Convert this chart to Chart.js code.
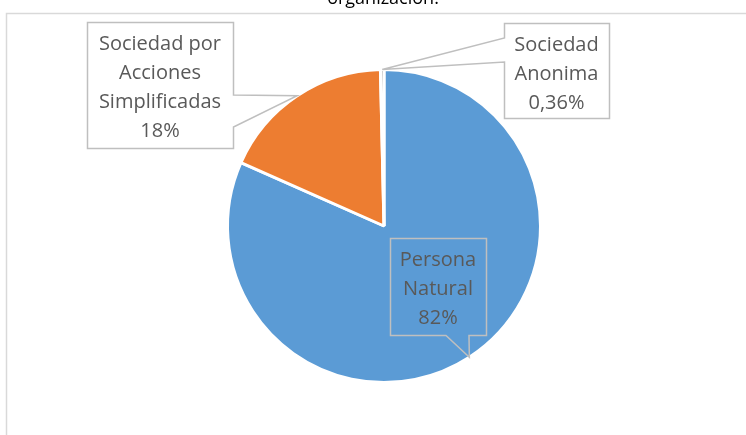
<!DOCTYPE html>
<html>
<head>
<meta charset="utf-8">
<script src="https://cdn.jsdelivr.net/npm/chart.js@4.4.0/dist/chart.umd.min.js"></script>
<style>
    html, body { margin: 0; padding: 0; background: #fff; }
    #wrap { position: relative; width: 746px; height: 435px; }
</style>
</head>
<body>
<div id="wrap"><canvas id="tipoChart" width="746" height="435"></canvas></div>
<script>
// Datos del gráfico
const categorias = ['Persona Natural', 'Sociedad por Acciones Simplificadas', 'Sociedad Anonima'];
const lineasEtiqueta = [['Persona', 'Natural'], ['Sociedad por', 'Acciones', 'Simplificadas'], ['Sociedad', 'Anonima']];
const valores = [81.64, 18, 0.36];
const textoPorcentaje = ['82%', '18%', '0,36%'];
const colores = ['#5B9BD5', '#ED7D31', '#A5A5A5'];
const tituloTexto = 'organización.';

// Cajas de las etiquetas (posición y lado de la flecha)
const cajas = [
    { x: 390, y: 238, w: 96, h: 97, side: 'bottom', a: 446, b: 469, fill: null },
    { x: 87, y: 22, w: 146, h: 126, side: 'right', a: 95, b: 127, fill: '#fff' },
    { x: 504, y: 23, w: 105, h: 95, side: 'left', a: 38, b: 62, fill: '#fff' }
];

// Marco y título
const marcoPlugin = {
    id: 'marco',
    beforeDraw(chart) {
        const ctx = chart.ctx;
        ctx.save();
        ctx.strokeStyle = '#D9D9D9';
        ctx.lineWidth = 1.5;
        ctx.beginPath();
        ctx.moveTo(6.5, 436);
        ctx.lineTo(6.5, 13.5);
        ctx.lineTo(747, 13.5);
        ctx.stroke();
        ctx.fillStyle = '#000';
        ctx.font = '18px "Open Sans"';
        ctx.textAlign = 'center';
        ctx.textBaseline = 'alphabetic';
        ctx.fillText(tituloTexto, 383, 4);
        ctx.restore();
    }
};

// Etiquetas tipo globo con flecha al centro del arco
const calloutPlugin = {
    id: 'callouts',
    afterDatasetsDraw(chart) {
        const ctx = chart.ctx;
        const arcs = chart.getDatasetMeta(0).data;
        ctx.save();
        arcs.forEach((arc, i) => {
            const c = cajas[i];
            const mid = (arc.startAngle + arc.endAngle) / 2;
            const tx = arc.x + Math.cos(mid) * arc.outerRadius;
            const ty = arc.y + Math.sin(mid) * arc.outerRadius;
            const x0 = c.x + 0.5, y0 = c.y + 0.5, x1 = c.x + c.w + 0.5, y1 = c.y + c.h + 0.5;

            ctx.beginPath();
            ctx.moveTo(x0, y0);
            ctx.lineTo(x1, y0);
            if (c.side === 'right') {
                ctx.lineTo(x1, c.a);
                ctx.lineTo(tx, ty);
                ctx.lineTo(x1, c.b);
            }
            ctx.lineTo(x1, y1);
            if (c.side === 'bottom') {
                ctx.lineTo(c.b, y1);
                ctx.lineTo(tx, ty);
                ctx.lineTo(c.a, y1);
            }
            ctx.lineTo(x0, y1);
            if (c.side === 'left') {
                ctx.lineTo(x0, c.b);
                ctx.lineTo(tx, ty);
                ctx.lineTo(x0, c.a);
            }
            ctx.closePath();
            if (c.fill) {
                ctx.fillStyle = c.fill;
                ctx.fill();
            }
            ctx.strokeStyle = '#BFBFBF';
            ctx.lineWidth = 1.5;
            ctx.stroke();

            const lines = lineasEtiqueta[i].concat([textoPorcentaje[i]]);
            ctx.fillStyle = '#595959';
            ctx.font = '20px "Open Sans"';
            ctx.textAlign = 'center';
            ctx.textBaseline = 'alphabetic';
            lines.forEach((t, k) => {
                ctx.fillText(t, c.x + c.w / 2, c.y + 28 + k * 29);
            });
        });
        ctx.restore();
    }
};

new Chart(document.getElementById('tipoChart').getContext('2d'), {
    type: 'pie',
    data: {
        labels: categorias,
        datasets: [{
            data: valores,
            backgroundColor: colores,
            borderColor: '#fff',
            borderWidth: 3
        }]
    },
    options: {
        responsive: false,
        animation: false,
        layout: { padding: { left: 226, right: 204, top: 68, bottom: 51 } },
        plugins: {
            legend: { display: false },
            title: { display: false },
            tooltip: { enabled: false }
        }
    },
    plugins: [marcoPlugin, calloutPlugin]
});
</script>
</body>
</html>
